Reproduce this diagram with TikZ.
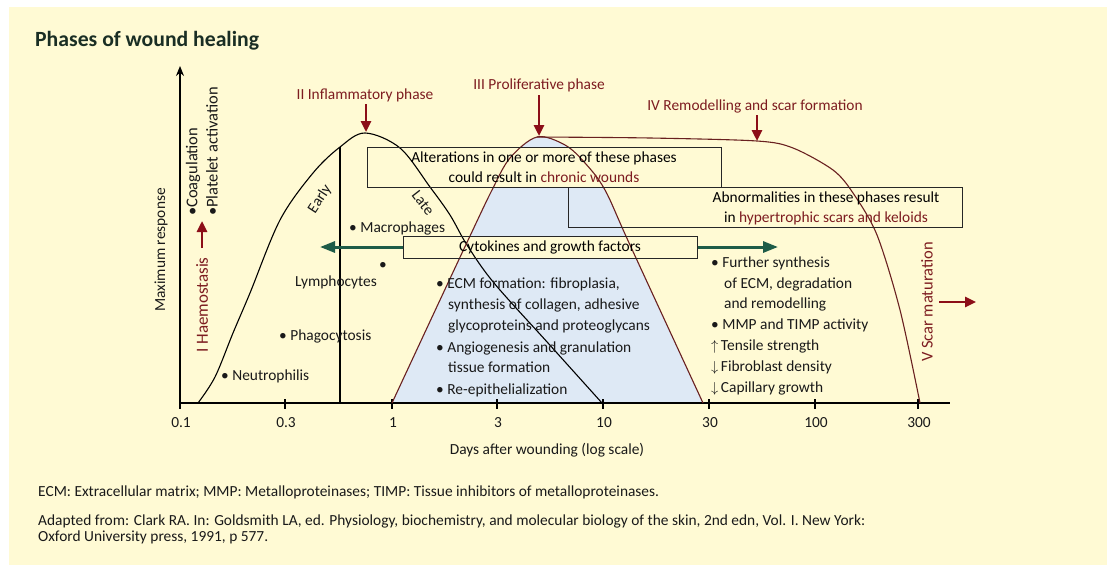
\documentclass[tikz,border=0pt]{standalone}
\usepackage{fontspec}
\setmainfont{Carlito}
\usetikzlibrary{arrows.meta}
\definecolor{bg}{RGB}{255,250,212}
\definecolor{phasered}{RGB}{125,28,32}
\definecolor{arrred}{RGB}{140,14,24}
\definecolor{cgreen}{RGB}{30,92,72}
\definecolor{pblue}{RGB}{222,233,245}
\definecolor{titlec}{RGB}{26,46,36}
\definecolor{curvered}{RGB}{105,32,32}
\tikzset{
  txt/.style={font=\fontsize{15.4}{18}\selectfont, inner sep=0pt, text=black!90},
  smalltxt/.style={font=\fontsize{15.4}{18}\selectfont, inner sep=0pt, text=black!90},
  phaselbl/.style={txt, text=phasered},
  phasearrow/.style={draw=arrred, line width=2.6pt, -{Triangle[width=10pt,length=11pt]}},
  garrow/.style={draw=cgreen, line width=3pt, -{Triangle[width=11pt,length=15pt]}},
  boxline/.style={draw=black!85, line width=1pt},
  curve/.style={line width=1.1pt},
}
\begin{document}
\begin{tikzpicture}[x=1pt,y=-1pt]
\useasboundingbox (0,0) rectangle (1107,565);
\fill[white] (0,0) rectangle (1107,565);
\fill[bg] (9,7) rectangle (1107,565);

% title
\node[anchor=base west, inner sep=0pt, text=titlec, font=\fontsize{21.7}{24}\bfseries\selectfont] (title) at (35,46) {Phases of wound healing};

% blue proliferative region
\fill[pblue] plot[smooth, tension=0.55] coordinates {(392,403) (440,300) (470,236) (492,190) (510,158) (537,137) (565,145) (585,163) (605,190) (630,245) (703,403)} -- cycle;
% box fills
\fill[bg] (367,147) rectangle (721,187);
\fill[bg] (403,236) rectangle (697,258);

% axes
\coordinate (origin) at (180,403);
\coordinate (ytop) at (180,66);
\coordinate (xend) at (950,403);
\draw[line width=1.4pt, -{Stealth[width=8pt,length=10pt]}] (origin) -- (ytop);
\draw[line width=1.4pt] (origin) -- (xend);
\foreach \xx/\lab in {180/0.1, 285/0.3, 392/1, 497/3, 603/10, 709/30, 815/100, 918/300}{
  \draw[line width=1.1pt] (\xx,399) -- (\xx,409);
  \node[txt] at (\xx+1,423) {\lab};
}
\node[txt] (xlabel) at (547,450) {Days after wounding (log scale)};
\node[txt, rotate=90] (ylabel) at (161,250) {Maximum response};

% inflammatory curve
\draw[curve] plot[smooth, tension=0.55] coordinates {(198,403) (215,377) (233,333) (250,293) (280,220) (313,173) (340,147) (365,133) (400,148) (430,187) (450,215) (467,245) (494,283) (548,343) (602,403)};
\coordinate (splitbot) at (340,403);
\coordinate (splittop) at (340,147);
\draw[line width=1.1pt] (splitbot) -- (splittop);
\node[txt, rotate=57] (early) at (320,199) {Early};
\node[txt, rotate=-52] (late) at (423,203) {Late};

% proliferative curve
\draw[curve, draw=curvered] plot[smooth, tension=0.55] coordinates {(392,403) (440,300) (470,236) (492,190) (510,158) (537,137) (565,145) (585,163) (605,190) (630,245) (703,403)};
% remodelling curve
\draw[curve, draw=curvered] plot[smooth, tension=0.5] coordinates {(537,137) (650,138) (757,141) (793,148) (833,170) (853,193) (877,235) (900,310) (920,403)};

% boxes
\node[boxline, minimum width=354pt, minimum height=40pt, inner sep=0pt, align=center, font=\fontsize{15.4}{20}\selectfont] (alter) at (544,167) {Alterations in one or more of these phases\\ could result in \textcolor{phasered}{chronic wounds}};
\coordinate (abnA) at (568,187);
\coordinate (abnB) at (962,227);
\draw[boxline] (abnA) rectangle (abnB);
\node[inner sep=0pt, align=center, font=\fontsize{15.4}{20}\selectfont] (abn) at (826,208) {Abnormalities in these phases result\\ in \textcolor{phasered}{hypertrophic scars and keloids}};
\node[boxline, minimum width=294pt, minimum height=22pt, inner sep=0pt, font=\fontsize{15.4}{18}\selectfont] (cyto) at (550,247) {Cytokines and growth factors};
\coordinate (cytoL) at (320,247);
\coordinate (cytoR) at (778,247);
\draw[garrow] (cyto.west) -- (cytoL);
\draw[garrow] (cyto.east) -- (cytoR);

% phase labels and arrows
\node[phaselbl] (infl) at (365,95) {II Inflammatory phase};
\coordinate (inflpeak) at (366,132);
\draw[phasearrow] (366,104) -- (inflpeak);
\node[phaselbl] (prolif) at (539,85) {III Proliferative phase};
\coordinate (prolpeak) at (539,136);
\draw[phasearrow] (539,95) -- (prolpeak);
\node[phaselbl] (remod) at (755,106) {IV Remodelling and scar formation};
\coordinate (rempt) at (757,141);
\draw[phasearrow] (757,115) -- (rempt);
\node[phaselbl, rotate=90, font=\fontsize{17}{20}\selectfont] (haem) at (202,305) {I Haemostasis};
\coordinate (haemtip) at (202,221);
\draw[phasearrow] (202,248) -- (haemtip);
\node[txt, rotate=90, anchor=west, font=\fontsize{16.5}{20}\selectfont] (coag) at (193,216) {•Coagulation};
\node[txt, rotate=90, anchor=west, font=\fontsize{16.5}{20}\selectfont] (plat) at (212,216) {•Platelet activation};
\node[phaselbl, rotate=90, font=\fontsize{16.5}{20}\selectfont] (scar) at (927,302) {V Scar maturation};
\coordinate (scarA) at (939,302);
\coordinate (scarB) at (976,302);
\draw[phasearrow] (scarA) -- (scarB);

% inflammatory cells
\node[txt, anchor=base west] (neut) at (221,380) {• Neutrophilis};
\node[txt, anchor=base west] (phag) at (279,340) {• Phagocytosis};
\node[txt, anchor=base west] (lymph) at (295,286) {Lymphocytes};
\node[txt] (lymphdot) at (383,266) {•};
\node[txt, anchor=base west] (macro) at (349,232) {• Macrophages};

% proliferative list
\node[txt, anchor=base west] (p1) at (436,288) {• ECM formation: fibroplasia,};
\node[txt, anchor=base west] (p2) at (448,309.5) {synthesis of collagen, adhesive};
\node[txt, anchor=base west] (p3) at (448,330.5) {glycoproteins and proteoglycans};
\node[txt, anchor=base west] (p4) at (436,352) {• Angiogenesis and granulation};
\node[txt, anchor=base west] (p5) at (448,372.5) {tissue formation};
\node[txt, anchor=base west] (p6) at (436,394) {• Re-epithelialization};

% remodelling list
\node[txt, anchor=base west] (r1) at (711,267) {• Further synthesis};
\node[txt, anchor=base west] (r2) at (724,288) {of ECM, degradation};
\node[txt, anchor=base west] (r3) at (724,308) {and remodelling};
\node[txt, anchor=base west] (r4) at (711,329) {• MMP and TIMP activity};
\node[txt, anchor=base west] (r5) at (711,350) {$\uparrow$\,Tensile strength};
\node[txt, anchor=base west] (r6) at (711,371) {$\downarrow$\,Fibroblast density};
\node[txt, anchor=base west] (r7) at (711,392) {$\downarrow$\,Capillary growth};

% footnotes
\node[smalltxt, anchor=base west] (foot1) at (38,496) {ECM: Extracellular matrix; MMP: Metalloproteinases; TIMP: Tissue inhibitors of metalloproteinases.};
\node[smalltxt, anchor=base west] (foot2) at (38,525) {Adapted from: Clark RA. In: Goldsmith LA, ed. Physiology, biochemistry, and molecular biology of the skin, 2nd edn, Vol. I. New York:};
\node[smalltxt, anchor=base west] (foot3) at (38,541) {Oxford University press, 1991, p 577.};
\end{tikzpicture}
\end{document}
